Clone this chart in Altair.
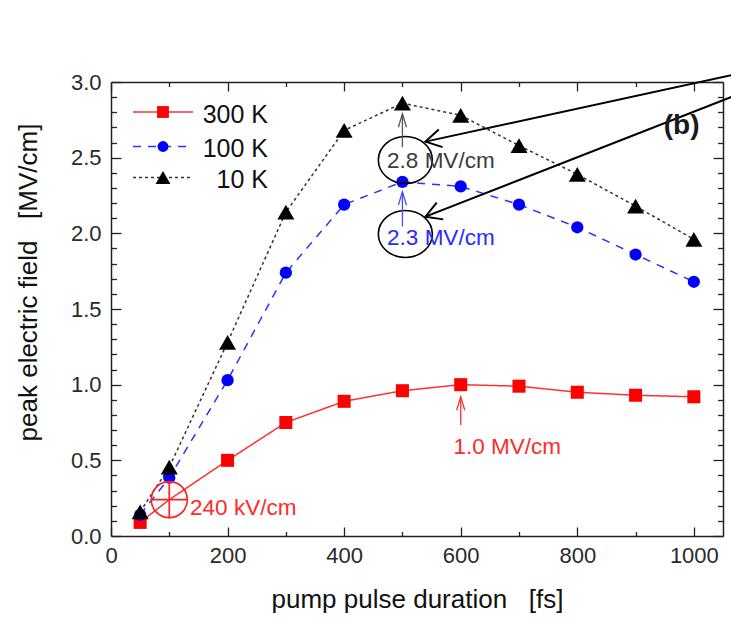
import altair as alt
import pandas as pd

# ---------------- data ----------------
pulse = [50, 100, 200, 300, 400, 500, 600, 700, 800, 900, 1000]
e_300K = [0.09, 0.24, 0.50, 0.75, 0.89, 0.96, 1.00, 0.99, 0.95, 0.93, 0.92]
e_100K = [0.14, 0.385, 1.03, 1.74, 2.19, 2.34, 2.31, 2.19, 2.04, 1.86, 1.68]
e_10K = [0.16, 0.455, 1.28, 2.14, 2.68, 2.86, 2.78, 2.58, 2.39, 2.18, 1.96]
series_names = ["300 K", "100 K", "10 K"]

x_ticks = list(range(0, 1001, 100))
y_ticks = [round(i * 0.1, 1) for i in range(31)]

# annotation texts
ann_labels = ["2.8 MV/cm", "2.3 MV/cm", "1.0 MV/cm", "240 kV/cm"]

# ---------------- styles ----------------
FONT = "Liberation Sans"
W, H = 612, 454
AX = "#222222"

series_values = [e_300K, e_100K, e_10K]
series_color = ["#ff0000", "#0000ff", "#000000"]
line_color = ["#ff3030", "#3030ff", "#333333"]
line_dash = [[1, 0], [8, 7], [3, 3]]
shapes = ["square", "circle", "triangle-up"]
pt_size = [170, 150, 289]
leg_size = [140, 120, 220]

xs = alt.Scale(domain=[0, 1050], nice=False, zero=False)
ys = alt.Scale(domain=[0, 3], nice=False, zero=False)

x_minor = "datum.value % 200 != 0"
y_minor = "abs(datum.value * 2 - round(datum.value * 2)) > 0.001"


def x_axis(orient, labels):
    kw = dict(
        orient=orient, values=x_ticks, grid=False,
        tickSize=alt.ExprRef(expr="-9"), tickColor=AX, tickWidth=1.3,
        tickDash={"condition": {"test": x_minor, "value": [4.5, 40]}, "value": [20, 0]},
        domainColor=AX, domainWidth=1.5, labelOverlap=False, labelFlush=False,
    )
    if labels:
        kw.update(
            labels=True,
            labelExpr="datum.value % 200 == 0 ? format(datum.value, 'd') : ''",
            labelFont=FONT, labelFontSize=22, labelColor="#2a2a2a", labelPadding=18,
            title="pump pulse duration\u00a0\u00a0\u00a0[fs]",
            titleFont=FONT, titleFontSize=26, titleFontWeight="normal", titleColor="#111111",
            titleBaseline="alphabetic", titleY=71,
        )
    else:
        kw.update(labels=False, title=None)
    return alt.Axis(**kw)


def y_axis(orient, labels):
    kw = dict(
        orient=orient, values=y_ticks, grid=False,
        tickSize=alt.ExprRef(expr="-10"), tickColor=AX, tickWidth=1.3,
        tickDash={"condition": {"test": y_minor, "value": [5.5, 40]}, "value": [20, 0]},
        domainColor=AX, domainWidth=1.5, labelOverlap=False, labelFlush=False,
    )
    if labels:
        kw.update(
            labels=True,
            labelExpr="abs(datum.value * 2 - round(datum.value * 2)) < 0.001 ? format(datum.value, '.1f') : ''",
            labelFont=FONT, labelFontSize=22, labelColor="#2a2a2a", labelPadding=20,
            title="peak electric field\u00a0\u00a0\u00a0[MV/cm]",
            titleFont=FONT, titleFontSize=26, titleFontWeight="normal", titleColor="#111111",
            titleBaseline="alphabetic", titleX=-74.5, titleY=200,
        )
    else:
        kw.update(labels=False, title=None)
    return alt.Axis(**kw)


XA = x_axis("bottom", True)
YA = y_axis("left", True)


def X(field):
    return alt.X(f"{field}:Q", scale=xs, axis=XA)


def Y(field):
    return alt.Y(f"{field}:Q", scale=ys, axis=YA)


layers = []
for i, name in enumerate(series_names):
    df = pd.DataFrame({"pulse": pulse, "value": series_values[i]})
    layers.append(
        alt.Chart(df).mark_line(color=line_color[i], strokeDash=line_dash[i], strokeWidth=1.5)
        .encode(x=X("pulse"), y=Y("value"))
    )
for i, name in enumerate(series_names):
    df = pd.DataFrame({"pulse": pulse, "value": series_values[i]})
    ch = alt.Chart(df)
    if i == 0:
        ch = ch.transform_filter("datum.pulse != 100")
    layers.append(
        ch.mark_point(shape=shapes[i], size=pt_size[i], filled=True, opacity=1,
                      color=series_color[i])
        .encode(x=X("pulse"), y=Y("value"))
    )

# crosshair marker at 100 fs (300 K)
cross_path = "M-1,0A1,1,0,1,0,1,0A1,1,0,1,0,-1,0M-1,0L1,0M0,-1L0,1"
cross_df = pd.DataFrame({"pulse": [pulse[1]], "value": [e_300K[1]]})
layers.append(
    alt.Chart(cross_df).mark_point(shape=cross_path, size=1296, filled=False,
                                   color="#ff2020", strokeWidth=1.7, opacity=1)
    .encode(x=X("pulse"), y=Y("value"))
)

# ellipses around 2.8 / 2.3 labels
ell_path = "M-1,0A1,0.87,0,1,0,1,0A1,0.87,0,1,0,-1,0Z"
ell_df = pd.DataFrame({"px": [505, 505], "py": [2.485, 1.996]})
layers.append(
    alt.Chart(ell_df).mark_point(shape=ell_path, size=2916, filled=False,
                                 color="#000000", strokeWidth=1.6, opacity=1)
    .encode(x=X("px"), y=Y("py"))
)

# small vertical arrows
sa_df = pd.DataFrame({
    "px": [500, 500, 600],
    "y0": [2.57, 2.045, 0.734],
    "y1": [2.79, 2.275, 0.92],
    "c": ["#555555", "#4a4aff", "#ff3030"],
})
layers.append(
    alt.Chart(sa_df).mark_rule(strokeWidth=1.3)
    .encode(x=X("px"), y=Y("y0"), y2="y1:Q", color=alt.Color("c:N", scale=None))
)
head_up = "M-0.29,0.96L0,0L0.29,0.96"
layers.append(
    alt.Chart(sa_df).mark_point(shape=head_up, size=784, filled=False, strokeWidth=1.3, opacity=1)
    .encode(x=X("px"), y=Y("y1"), color=alt.Color("c:N", scale=None))
)

# long black arrows from top right
la_df = pd.DataFrame({
    "x0": [1090, 1090], "y0": [3.067, 2.94],
    "x1": [539.5, 539.5], "y1": [2.606, 2.11],
    "ang": [347.7, 338.6],
})
layers.append(
    alt.Chart(la_df).mark_rule(strokeWidth=2, color="#000000")
    .encode(x=X("x0"), y=Y("y0"), x2="x1:Q", y2="y1:Q")
)
head_left = "M0.866,-0.5L0,0L0.866,0.5"
layers.append(
    alt.Chart(la_df).mark_point(shape=head_left, size=1296, filled=False, strokeWidth=2,
                                color="#000000", opacity=1)
    .encode(x=X("x1"), y=Y("y1"), angle=alt.Angle("ang:Q", scale=None))
)

# annotation texts
at_df = pd.DataFrame({
    "t": ann_labels,
    "px": [473.7, 473.7, 587.6, 135.7],
    "py": [2.43, 1.923, 0.542, 0.139],
    "c": ["#3c3c3c", "#2a2aff", "#ff2a2a", "#ff2a2a"],
})
layers.append(
    alt.Chart(at_df).mark_text(align="left", baseline="alphabetic", font=FONT, fontSize=22.5)
    .encode(x=X("px"), y=Y("py"), text="t:N", color=alt.Color("c:N", scale=None))
)
b_df = pd.DataFrame({"t": ["(b)"], "px": [979], "py": [2.657]})
layers.append(
    alt.Chart(b_df).mark_text(align="center", baseline="alphabetic", font=FONT, fontSize=28,
                              fontWeight="bold", color="#1a1a1a")
    .encode(x=X("px"), y=Y("py"), text="t:N")
)

# manual legend (pixel positions inside plot)
one = pd.DataFrame({"a": [0]})
rows = [30, 64.5, 95.5]
for i, name in enumerate(series_names):
    layers.append(
        alt.Chart(one).mark_rule(color=line_color[i], strokeDash=line_dash[i], strokeWidth=1.5)
        .encode(x=alt.value(22), x2=alt.value(82), y=alt.value(rows[i]))
    )
    layers.append(
        alt.Chart(one).mark_point(shape=shapes[i], size=leg_size[i], filled=True, opacity=1,
                                  color=series_color[i])
        .encode(x=alt.value(52), y=alt.value(rows[i]))
    )
    layers.append(
        alt.Chart(one).mark_text(text=name, align="right", baseline="alphabetic", font=FONT,
                                 fontSize=25, color="#111111")
        .encode(x=alt.value(157), y=alt.value(rows[i] + 10.5))
    )

main = alt.layer(*layers)

frame_df = pd.DataFrame({"pulse": pulse, "value": e_10K})
frame = alt.Chart(frame_df).mark_point(opacity=0).encode(
    x=alt.X("pulse:Q", scale=xs, axis=x_axis("top", False)),
    y=alt.Y("value:Q", scale=ys, axis=y_axis("right", False)),
)

chart = (
    alt.layer(main, frame)
    .resolve_scale(x="independent", y="independent")
    .properties(width=W, height=H, autosize="none",
                padding={"left": 111, "top": 82, "right": 8, "bottom": 84},
                background="white")
    .configure_view(stroke=None)
)

chart.save("out.html", embed_options={"renderer": "svg", "actions": False})
